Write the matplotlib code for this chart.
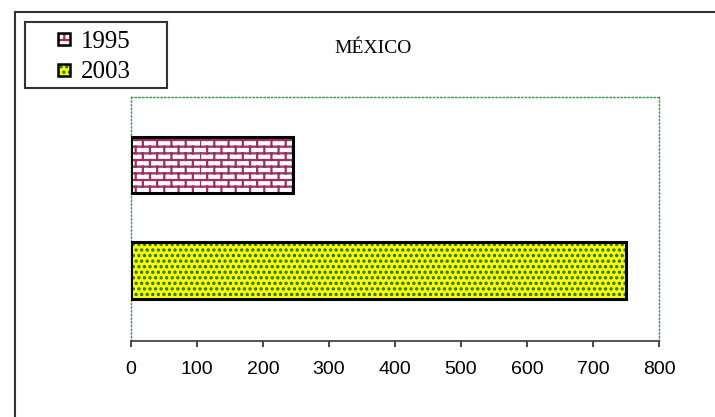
import numpy as np
import matplotlib
matplotlib.use("Agg")
import matplotlib.pyplot as plt
import matplotlib.hatch as mhatch
from matplotlib.path import Path as MPath
from matplotlib.patches import Rectangle

# data
years = ["2003", "1995"]
values = [750, 245]
xticks = [0, 100, 200, 300, 400, 500, 600, 700, 800]
title = "MÉXICO"

W, H = 715, 417


def fx(x):
    return x / W


def fy(y):
    return 1 - y / H


class BrickHatch(mhatch.HatchPatternBase):
    # brick wall hatch, used with the 'b' pattern char
    def __init__(self, hatch, density):
        self.rows = 15 * hatch.count("b")
        self.cols = 7
        self.num_vertices = self.rows * 2 + self.rows * self.cols * 2

    def set_vertices_and_codes(self, vertices, codes):
        h = 1.0 / self.rows if self.rows else 0
        i = 0
        for r in range(self.rows):
            y = r * h
            vertices[i] = (0, y)
            vertices[i + 1] = (1, y)
            codes[i] = MPath.MOVETO
            codes[i + 1] = MPath.LINETO
            i += 2
            off = 0.5 / self.cols if r % 2 else 0.0
            for c in range(self.cols):
                x = c / self.cols + off
                vertices[i] = (x, y)
                vertices[i + 1] = (x, y + h)
                codes[i] = MPath.MOVETO
                codes[i + 1] = MPath.LINETO
                i += 2


mhatch._hatch_types.append(BrickHatch)

plt.rcParams.update({
    "font.family": ["Liberation Sans", "DejaVu Sans"],
    "hatch.linewidth": 1.6,
})
SERIF = ["Liberation Serif", "DejaVu Serif"]

BRICK = "#9e2f63"
YELLOW = "#ffff00"
DOTS = "#1a6e24"
GRID_GREEN = "#3a9a4a"
AXIS_GRAY = "#444444"

fig = plt.figure(figsize=(W / 100, H / 100), dpi=100)
fig.patch.set_facecolor("white")

ax = fig.add_axes([fx(131), fy(341), (659 - 131) / W, (341 - 97) / H])
ax.set_xlim(0, 800)
ax.set_ylim(0, 3)

pos = [0.867, 2.164]
height = 0.69
fills = [YELLOW, "white"]
hatch_colors = [DOTS, BRICK]
patterns = ["...", "b"]

for p, v, fc, hc, pat in zip(pos, values, fills, hatch_colors, patterns):
    ax.barh(p, v, height=height, color=fc, edgecolor=hc, hatch=pat, linewidth=0, zorder=2)
    ax.barh(p, v, height=height, fill=False, edgecolor="black", linewidth=2.2, zorder=3)

ax.set_xticks(xticks)
ax.set_xticklabels([str(t) for t in xticks], fontsize=14)
ax.set_yticks([])
ax.tick_params(axis="x", direction="out", length=4.5, width=1.4, color=AXIS_GRAY, pad=10)

for side in ["top", "left", "right"]:
    ax.spines[side].set_linestyle(":")
    ax.spines[side].set_color(GRID_GREEN)
    ax.spines[side].set_linewidth(1.0)
ax.spines["bottom"].set_linestyle((0, (2, 1)))
ax.spines["bottom"].set_color(AXIS_GRAY)
ax.spines["bottom"].set_linewidth(1.3)

# outer chart frame (cut off at the right and bottom)
fig.add_artist(Rectangle((fx(15), -0.2), 1.0, 1.2 - 12 / H, transform=fig.transFigure,
                         fill=False, edgecolor="#333333", linewidth=1.5, clip_on=False))

fig.text(fx(373), fy(53), title, ha="center", va="baseline", fontsize=14, family=SERIF)

# legend box
fig.add_artist(Rectangle((fx(25), fy(88)), (167 - 25) / W, (88 - 22) / H,
                         transform=fig.transFigure, fill=False, edgecolor="#333333",
                         linewidth=1.5))
leg_rows = {"1995": 39, "2003": 70}
for yr, fc, hc, pat in zip(years, fills, hatch_colors, patterns):
    yc = leg_rows[yr]
    fig.add_artist(Rectangle((fx(58), fy(yc + 6)), 12 / W, 12 / H, transform=fig.transFigure,
                             facecolor=fc, edgecolor=hc, hatch=pat, linewidth=0))
    fig.add_artist(Rectangle((fx(58), fy(yc + 6)), 12 / W, 12 / H, transform=fig.transFigure,
                             fill=False, edgecolor="black", linewidth=1.8))
    fig.text(fx(81), fy(yc), yr, ha="left", va="center_baseline", fontsize=18, family=SERIF)

fig.savefig("out.png", dpi=100)
